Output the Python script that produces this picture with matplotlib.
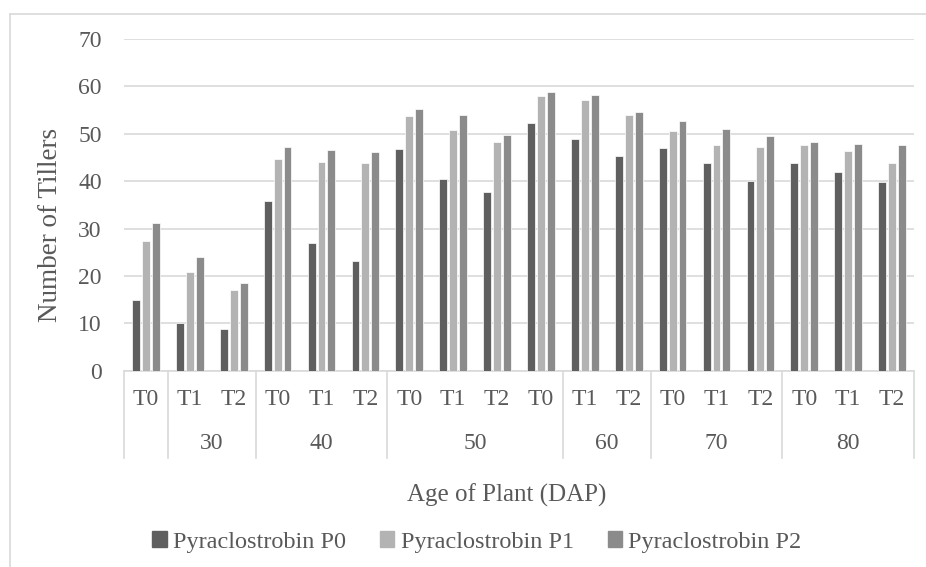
import matplotlib
matplotlib.use("Agg")
from matplotlib import pyplot as plt
from matplotlib.lines import Line2D
from matplotlib.patches import Patch
import numpy as np

plt.rcParams['font.family'] = ['Liberation Serif', 'DejaVu Serif']

# categories on x axis (inner level) and the outer DAP groups
treatments = ["T0", "T1", "T2", "T0", "T1", "T2", "T0", "T1", "T2",
              "T0", "T1", "T2", "T0", "T1", "T2", "T0", "T1", "T2"]
group_labels = ["", "30", "40", "50", "60", "70", "80"]
group_sizes = [1, 2, 3, 4, 2, 3, 3]

p0 = [15.0, 10.0, 8.9, 35.8, 27.0, 23.2, 46.7, 40.5, 37.6,
      52.2, 48.8, 45.2, 46.9, 43.7, 40.0, 43.7, 41.9, 39.7]
p1 = [27.3, 20.9, 17.1, 44.6, 44.0, 43.7, 53.7, 50.8, 48.2,
      57.8, 57.0, 54.0, 50.5, 47.5, 47.2, 47.5, 46.3, 43.7]
p2 = [31.1, 24.1, 18.5, 47.2, 46.6, 46.1, 55.2, 53.9, 49.7,
      58.7, 58.1, 54.6, 52.6, 50.9, 49.4, 48.2, 47.9, 47.5]
series_names = ["Pyraclostrobin P0", "Pyraclostrobin P1", "Pyraclostrobin P2"]
colors = ["#5f5f5f", "#b3b3b3", "#8b8b8b"]

txt = "#595959"
grid = "#d9d9d9"

fig = plt.figure(figsize=(9.26, 5.67), dpi=100)
ax = fig.add_axes([0.1339, 0.3457, 0.8531, 0.5863])

x = np.arange(len(treatments))
w = 0.18
for k, (vals, c) in enumerate(zip([p0, p1, p2], colors)):
    ax.bar(x + (k - 1) * 0.225, vals, width=w, color=c, edgecolor="white",
           linewidth=0.5, zorder=3)

ax.set_xlim(-0.5, len(treatments) - 0.5)
ax.set_ylim(0, 70)
ax.set_yticks(range(0, 71, 10))
ax.yaxis.grid(True, color=grid, linewidth=1.2, zorder=0)
ax.tick_params(axis='y', length=0, labelsize=17, colors=txt, pad=16)
ax.set_xticks([])
for s in ["top", "right", "left"]:
    ax.spines[s].set_visible(False)
ax.spines["bottom"].set_color(grid)
ax.spines["bottom"].set_linewidth(1.2)

# two-level category axis
xt = ax.get_xaxis_transform()
for i, t in enumerate(treatments):
    ax.text(i, -0.087, t, transform=xt, ha="center", va="center",
            fontsize=17, color=txt)
start = 0
bounds = [-0.5]
for lab, n in zip(group_labels, group_sizes):
    ax.text(start + n / 2 - 0.5, -0.217, lab, transform=xt,
            ha="center", va="center", fontsize=17, color=txt)
    start += n
    bounds.append(start - 0.5)
for b in bounds:
    ax.add_line(Line2D([b, b], [0, -0.262], transform=xt,
                       color=grid, linewidth=1.2, clip_on=False))

fig.text(0.055, 0.603, "Number of Tillers", rotation=90, ha="center", va="center",
         fontsize=19.5, color=txt)
fig.text(0.547, 0.127, "Age of Plant (DAP)", ha="center", va="center",
         fontsize=18, color=txt)

handles = [Patch(color=c) for c in colors]
fig.legend(handles, series_names, loc="center", bbox_to_anchor=(0.515, 0.044),
           ncol=3, frameon=False, fontsize=17.5, labelcolor=txt,
           handlelength=0.6, handleheight=0.6, handletextpad=0.25,
           columnspacing=1.4)

# chart area border (top and left visible)
ytop = 1 - 13.5 / 567
fig.add_artist(Line2D([0.0108, 0.0108], [0, ytop], transform=fig.transFigure,
                      color=grid, linewidth=1.2))
fig.add_artist(Line2D([0.0108, 1], [ytop, ytop], transform=fig.transFigure,
                      color=grid, linewidth=1.2))

fig.savefig("out.png", dpi=100)
